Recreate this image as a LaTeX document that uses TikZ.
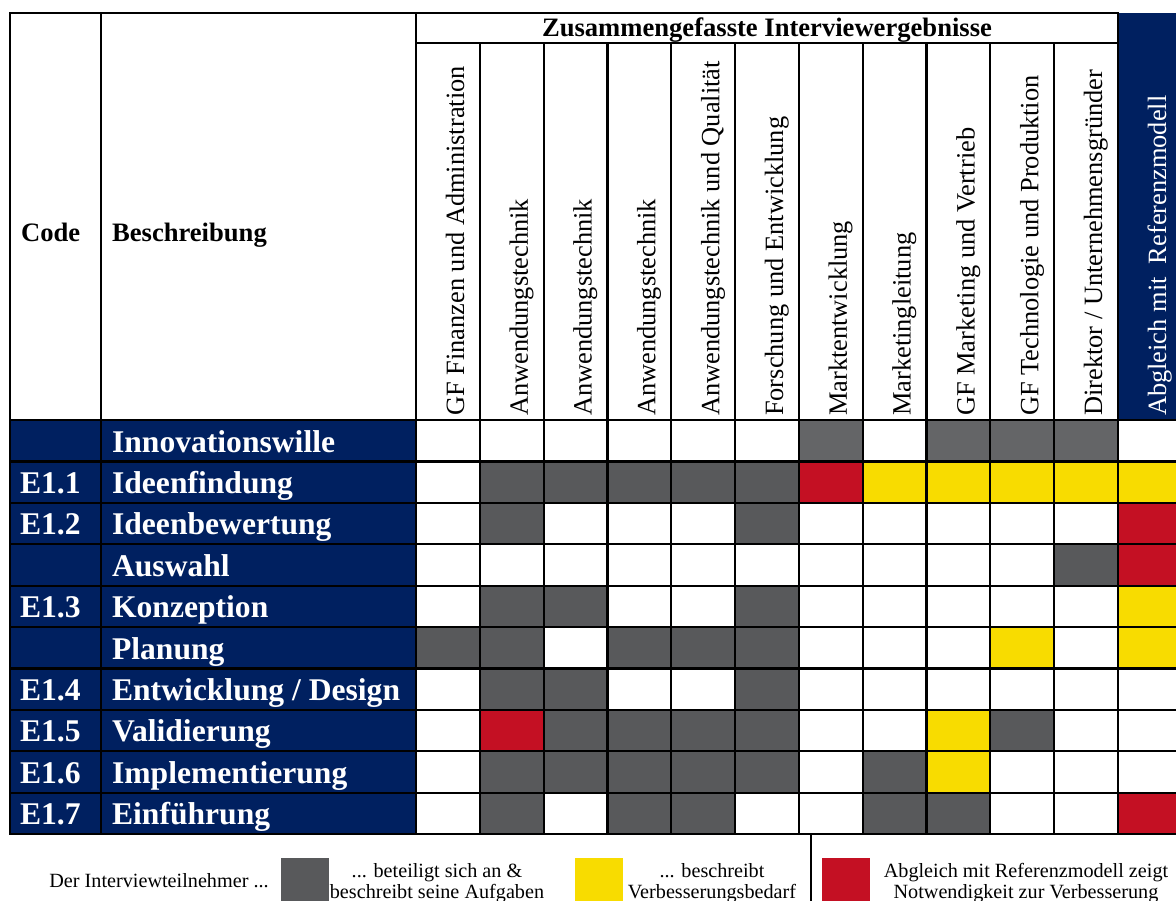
\documentclass[tikz,border=0pt]{standalone}
\usepackage{fontspec}
\setmainfont{Liberation Serif}
\usetikzlibrary{positioning}
\definecolor{navy}{RGB}{0,32,96}
\definecolor{gr}{RGB}{88,89,91}
\definecolor{lg}{RGB}{100,101,103}
\definecolor{yl}{RGB}{248,220,0}
\definecolor{rd}{RGB}{196,16,35}
\colorlet{wt}{white}

\begin{document}
\begin{tikzpicture}[x=1pt, y=-1pt, line width=2.2pt, line cap=rect,
	rowtxt/.style={anchor=base west, inner sep=0pt, text=white, font=\fontsize{31.6}{36}\selectfont\bfseries},
	colhd/.style={rotate=90, anchor=base west, inner sep=0pt, font=\fontsize{26.4}{30}\selectfont},
	hd/.style={inner sep=0pt, font=\fontsize{26.6}{30}\selectfont\bfseries},
	leg/.style={align=center, anchor=base, inner sep=0pt, font=\fontsize{20.2}{21}\selectfont},
	sq/.style={anchor=north west, minimum width=48pt, minimum height=50pt, inner sep=0pt}]
	\useasboundingbox (0,0) rectangle (1176,901);
	\clip (0,0) rectangle (1176,901);
	\fill[white] (0,0) rectangle (1176,901);

	% Kopfzeile
	\fill[navy] (1118,13) rectangle (1176,420);
	\node[hd, anchor=base west] (code) at (20,242) {Code};
	\node[hd, anchor=base west] (beschr) at (111,242) {Beschreibung};
	\node[hd, anchor=base] (zus) at (767,37) {Zusammengefasste Interviewergebnisse};
	\foreach \pers [count=\i from 0] in {GF Finanzen und Administration, Anwendungstechnik, Anwendungstechnik, Anwendungstechnik, Anwendungstechnik und Qualität, Forschung und Entwicklung, Marktentwicklung, Marketingleitung, GF Marketing und Vertrieb, GF Technologie und Produktion, Direktor / Unternehmensgründer}
		\node[colhd] (p\i) at ({464+63.82*\i},417) {\pers};
	\node[colhd, text=white] (abgl) at (1166,417) {Abgleich mit\ \ Referenzmodell};

	% Zeilen
	\fill[navy] (10,420) rectangle (416,834);
	\foreach \cd/\txt/\cells [count=\r from 0] in {
		{}/Innovationswille/{wt,wt,wt,wt,wt,wt,lg,wt,lg,lg,lg,wt},
		E1.1/Ideenfindung/{wt,gr,gr,gr,gr,gr,rd,yl,yl,yl,yl,yl},
		E1.2/Ideenbewertung/{wt,gr,wt,wt,wt,gr,wt,wt,wt,wt,wt,rd},
		{}/Auswahl/{wt,wt,wt,wt,wt,wt,wt,wt,wt,wt,gr,rd},
		E1.3/Konzeption/{wt,gr,gr,wt,wt,gr,wt,wt,wt,wt,wt,yl},
		{}/Planung/{gr,gr,wt,gr,gr,gr,wt,wt,wt,yl,wt,yl},
		E1.4/{Entwicklung / Design}/{wt,gr,gr,wt,wt,gr,wt,wt,wt,wt,wt,wt},
		E1.5/Validierung/{wt,rd,gr,gr,gr,gr,wt,wt,yl,gr,wt,wt},
		E1.6/Implementierung/{wt,gr,gr,gr,gr,gr,wt,gr,yl,wt,wt,wt},
		E1.7/Einführung/{wt,gr,wt,gr,gr,wt,wt,gr,gr,wt,wt,rd}}{
		\foreach \c [count=\i from 0] in \cells
			\fill[fill=\c] ({416+63.82*\i},{420+41.4*\r}) rectangle +(63.82,41.4);
		\node[rowtxt] (cd\r) at (19,{452+41.4*\r}) {\cd};
		\node[rowtxt] (lb\r) at (111,{452+41.4*\r}) {\txt};
	}

	% Gitter
	\draw (10,13) -- (1118,13);
	\draw (416,43) -- (1118,43);
	\foreach \k in {0,...,10}
		\draw (10,{420+41.4*\k}) -- (1176,{420+41.4*\k});
	\foreach \xx in {10,101,416,1118}
		\draw (\xx,13) -- (\xx,834);
	\foreach \k in {1,...,10}
		\draw ({416+63.82*\k},43) -- ({416+63.82*\k},834);

	% Legende
	\draw (811,834) -- (811,901);
	\node[sq, fill=gr] (sqg) at (280,857) {};
	\node[sq, fill=yl] (sqy) at (574,857) {};
	\node[sq, fill=rd] (sqr) at (821,857) {};
	\node[leg] (l0) at (159,887) {Der Interviewteilnehmer ...};
	\node[leg] (l1) at (437,898) {... beteiligt sich an \&\\beschreibt seine Aufgaben};
	\node[leg] (l2) at (712,898) {... beschreibt\\Verbesserungsbedarf};
	\node[leg] (l3) at (1026,898) {Abgleich mit Referenzmodell zeigt\\Notwendigkeit zur Verbesserung};
\end{tikzpicture}
\end{document}
